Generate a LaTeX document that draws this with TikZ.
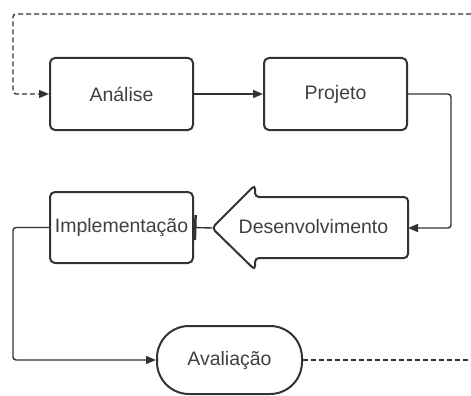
\documentclass[tikz,border=0pt]{standalone}
\usepackage{fontspec}
\setmainfont{Liberation Sans}
\usetikzlibrary{arrows.meta}
\definecolor{ln}{HTML}{333333}
\definecolor{tx}{HTML}{404040}
\begin{document}
\begin{tikzpicture}[x=1pt,y=-1pt,
  box/.style={draw=ln,line width=2pt,rounded corners=5pt,minimum width=143pt,minimum height=72pt,
    font=\fontsize{19.5}{23}\selectfont,text=tx,inner sep=0pt},
  lbl/.style={font=\fontsize{19.5}{23}\selectfont,text=tx,inner sep=0pt},
  conn/.style={draw=ln,line width=1.4pt,rounded corners=3pt},
  tipa/.style={-{Triangle[length=10pt,width=8pt]}},
  dashline/.style={dash pattern=on 5pt off 3pt}]
\useasboundingbox (0,0) rectangle (471,396);
% boxes
\node[box] (ana) at (121.5,94) {Análise};
\node[box] (proj) at (335.5,94) {Projeto};
\node[box,minimum height=71pt] (impl) at (121.5,227.5) {Implementação};
\node[box,rounded corners=32pt,minimum width=145pt,minimum height=68pt] (ava) at (229.5,360) {Avaliação};
% big arrow shape
\draw[ln,line width=2pt,rounded corners=4pt] (212,228) -- (255,185) -- (255,197) -- (408,197)
  -- (408,258) -- (255,258) -- (255,270) -- cycle;
\node[lbl] (dev) at (313.5,227) {Desenvolvimento};
\coordinate (devtip) at (212,228);
\coordinate (deve) at (408,228);
% helper coordinates
\coordinate (r1) at (451,150);
\coordinate (l1) at (13,300);
\coordinate (rt) at (471,360);
\coordinate (tr) at (471,14);
\coordinate (tl) at (13,50);
% connectors
\draw[conn,tipa] (ana.east) -- (proj.west);
\draw[conn,tipa] (proj.east) -| (r1) |- (deve);
\draw[conn,-{Bar[width=25pt,line width=2.5pt]}] (devtip) -- (impl.east);
\draw[conn,tipa] (impl.west) -| (l1) |- (ava.west);
\draw[conn,dashline] (ava.east) -- (rt);
\draw[conn,dashline,tipa] (tr) -| (tl) |- (ana.west);
\end{tikzpicture}
\end{document}
